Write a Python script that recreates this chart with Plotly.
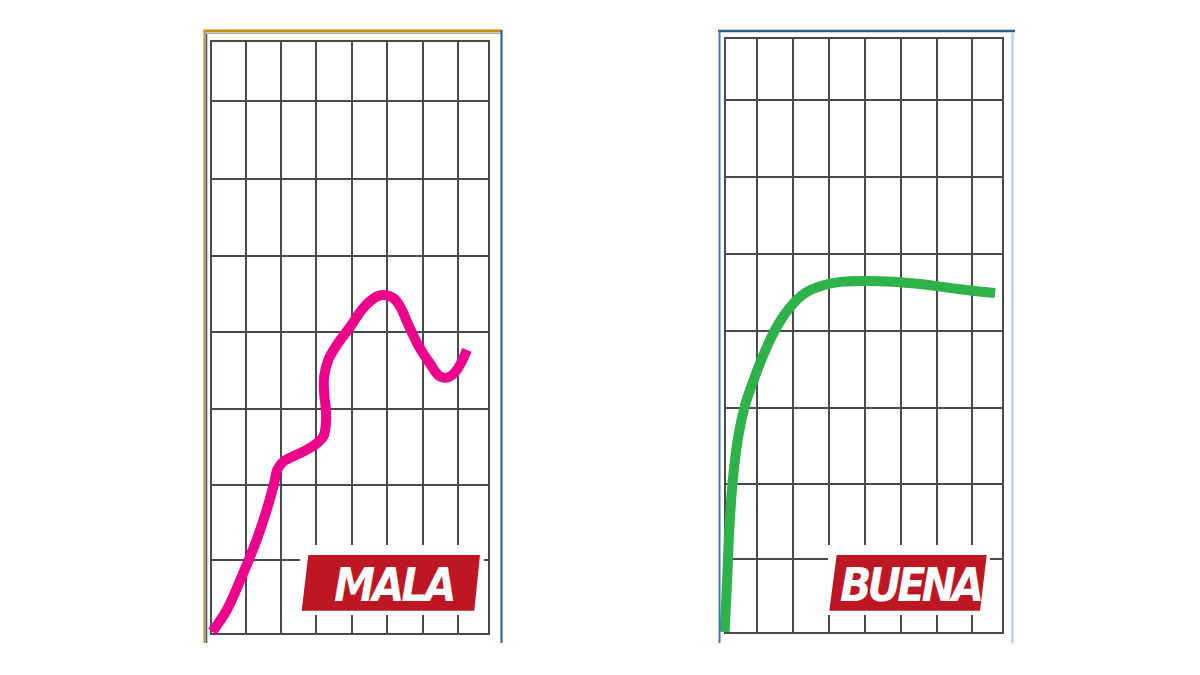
import plotly.graph_objects as go

# page has an 8px body margin, so the figure is sized to fit inside it
OFF = 8
W, H = 1184, 659

# ---- data (grid units: 1 column ~ 35.5 px, 1 row ~ 76 px) ----
mala_x = [0.00, 0.41, 0.87, 1.25, 1.53, 1.74, 1.83, 2.00, 2.24, 2.56, 2.89, 3.13, 3.20, 3.20, 3.15, 3.15,
          3.27, 3.50, 3.88, 4.25, 4.63, 4.86, 5.10, 5.29, 5.52, 5.80, 6.13, 6.41, 6.65, 6.88, 7.07, 7.17]
mala_y = [0.02, 0.31, 0.79, 1.23, 1.62, 1.97, 2.15, 2.26, 2.32, 2.39, 2.48, 2.59, 2.76, 2.94, 3.16, 3.38,
          3.60, 3.79, 4.03, 4.28, 4.43, 4.45, 4.41, 4.30, 4.06, 3.79, 3.55, 3.38, 3.37, 3.46, 3.62, 3.73]

buena_x = [-0.03, 0.04, 0.10, 0.20, 0.36, 0.55, 0.76, 1.03, 1.30, 1.60, 1.92, 2.27, 2.66, 3.30, 3.98,
           4.71, 5.66, 6.60, 7.59]
buena_y = [0.00, 0.68, 1.34, 2.00, 2.59, 2.99, 3.28, 3.61, 3.89, 4.14, 4.33, 4.47, 4.55, 4.61, 4.62,
           4.61, 4.57, 4.51, 4.46]

labels = ["MALA", "BUENA"]

left_vlines = [0, 0.94, 1.93, 2.93, 3.93, 4.93, 5.94, 6.93, 7.77]
left_hlines = [0, 0.96, 1.95, 2.95, 3.97, 4.97, 5.98, 7.00, 7.78]
right_vlines = [0, 0.89, 1.90, 2.91, 3.91, 4.94, 5.94, 6.94, 7.77]
right_hlines = [0, 0.96, 1.95, 2.95, 3.96, 4.97, 5.99, 7.00, 7.80]

# ---- geometry (pixels in the 1200x675 window) ----
SX, SY = 35.5, 76.0
panels = [
    dict(x0=212.3, y0=633.3, gx1=488.3, gy1=41.7, fx0=205, fx1=501, fy0=33, fy1=643,
         v=left_vlines, h=left_hlines),
    dict(x0=725.7, y0=632.0, gx1=1001.7, gy1=39.0, fx0=720, fx1=1012, fy0=33, fy1=643,
         v=right_vlines, h=right_hlines),
]

def pxx(p):
    return (p - OFF) / W

def pxy(p):
    return 1 - (p - OFF) / H

fig = go.Figure()
layout = dict(width=W, height=H, margin=dict(l=0, r=0, t=0, b=0),
              paper_bgcolor="white", plot_bgcolor="rgba(0,0,0,0)", showlegend=False)

GRID = "#4a4a4a"
for i, p in enumerate(panels):
    g = 2 * i + 1
    c = 2 * i + 2
    kx = "xaxis" if g == 1 else f"xaxis{g}"
    ky = "yaxis" if g == 1 else f"yaxis{g}"
    ax_x = "x" if g == 1 else f"x{g}"
    ax_y = "y" if g == 1 else f"y{g}"
    layout[kx] = dict(domain=[pxx(p["x0"]), pxx(p["gx1"])],
                      range=[0, (p["gx1"] - p["x0"]) / SX],
                      tickvals=p["v"], showticklabels=False, ticks="",
                      showgrid=True, gridcolor=GRID, gridwidth=2, zeroline=False,
                      showline=True, linecolor=GRID, linewidth=2, mirror=True,
                      anchor=ax_y, fixedrange=True)
    layout[ky] = dict(domain=[pxy(p["y0"]), pxy(p["gy1"])],
                      range=[0, (p["y0"] - p["gy1"]) / SY],
                      tickvals=p["h"], showticklabels=False, ticks="",
                      showgrid=True, gridcolor=GRID, gridwidth=2, zeroline=False,
                      showline=True, linecolor=GRID, linewidth=2, mirror=True,
                      anchor=ax_x, fixedrange=True)
    fig.add_trace(go.Scatter(x=[None], y=[None], xaxis=ax_x, yaxis=ax_y, hoverinfo="skip"))
    layout[f"xaxis{c}"] = dict(domain=[pxx(p["fx0"]), pxx(p["fx1"])],
                               range=[(p["fx0"] - p["x0"]) / SX, (p["fx1"] - p["x0"]) / SX],
                               visible=False, anchor=f"y{c}", fixedrange=True)
    layout[f"yaxis{c}"] = dict(domain=[pxy(p["fy1"]), pxy(p["fy0"])],
                               range=[(p["y0"] - p["fy1"]) / SY, (p["y0"] - p["fy0"]) / SY],
                               visible=False, anchor=f"x{c}", fixedrange=True)

fig.add_trace(go.Scatter(x=mala_x, y=mala_y, mode="lines", xaxis="x2", yaxis="y2", hoverinfo="skip",
                         line=dict(color="#EC008C", width=10, shape="spline", smoothing=1.0)))
fig.add_trace(go.Scatter(x=buena_x, y=buena_y, mode="lines", xaxis="x4", yaxis="y4", hoverinfo="skip",
                         line=dict(color="#2DB34A", width=10, shape="spline", smoothing=1.0)))

shapes = []

def line(x0, y0, x1, y1, color, width):
    shapes.append(dict(type="line", xref="paper", yref="paper", x0=pxx(x0), y0=pxy(y0),
                       x1=pxx(x1), y1=pxy(y1), line=dict(color=color, width=width), layer="above"))

# frames
ORANGE = "#C98F1B"
BLUE = "#1F5C99"
line(203.5, 31, 502, 31, ORANGE, 3)
line(204.5, 30, 204.5, 643, ORANGE, 2)
line(206.5, 33, 206.5, 643, BLUE, 1.5)
line(206, 33.5, 501, 33.5, "#8fb0d0", 1)
line(501.5, 30, 501.5, 643, BLUE, 2)

line(718, 31, 1015, 31, "#2B5F86", 2.5)
line(719.5, 31, 719.5, 643, "#4377AE", 2)
line(1012.5, 32, 1012.5, 643, "#BCD1E8", 2.5)

RED = "#BE1622"
boxes = [
    dict(wx0=300, wx1=484, wy0=545, wy1=615,
         poly=[(308.3, 555), (480, 555), (474.3, 610.7), (301.7, 610.7)], tx=394, ty=585, ls=-3),
    dict(wx0=828, wx1=990, wy0=545, wy1=615,
         poly=[(836.7, 555), (986.7, 555), (980, 610.7), (829.3, 610.7)], tx=910, ty=585, ls=-4),
]
annotations = []
for b, lab in zip(boxes, labels):
    shapes.append(dict(type="rect", xref="paper", yref="paper", x0=pxx(b["wx0"]), x1=pxx(b["wx1"]),
                       y0=pxy(b["wy1"]), y1=pxy(b["wy0"]), fillcolor="white",
                       line=dict(width=0), layer="above"))
    path = "M " + " L ".join(f"{pxx(x):.5f},{pxy(y):.5f}" for x, y in b["poly"]) + " Z"
    shapes.append(dict(type="path", xref="paper", yref="paper", path=path, fillcolor=RED,
                       line=dict(width=0), layer="above"))
    annotations.append(dict(text=f'<span style="letter-spacing:{b["ls"]}px"><b><i>{lab}</i></b></span>',
                            xref="paper", yref="paper",
                            x=pxx(b["tx"]), y=pxy(b["ty"]), xanchor="center", yanchor="middle",
                            showarrow=False,
                            font=dict(family="DejaVu Sans Condensed, DejaVu Sans, sans-serif",
                                      size=46, color="white")))

layout["shapes"] = shapes
layout["annotations"] = annotations
fig.update_layout(**layout)
fig.write_html("out.html")
